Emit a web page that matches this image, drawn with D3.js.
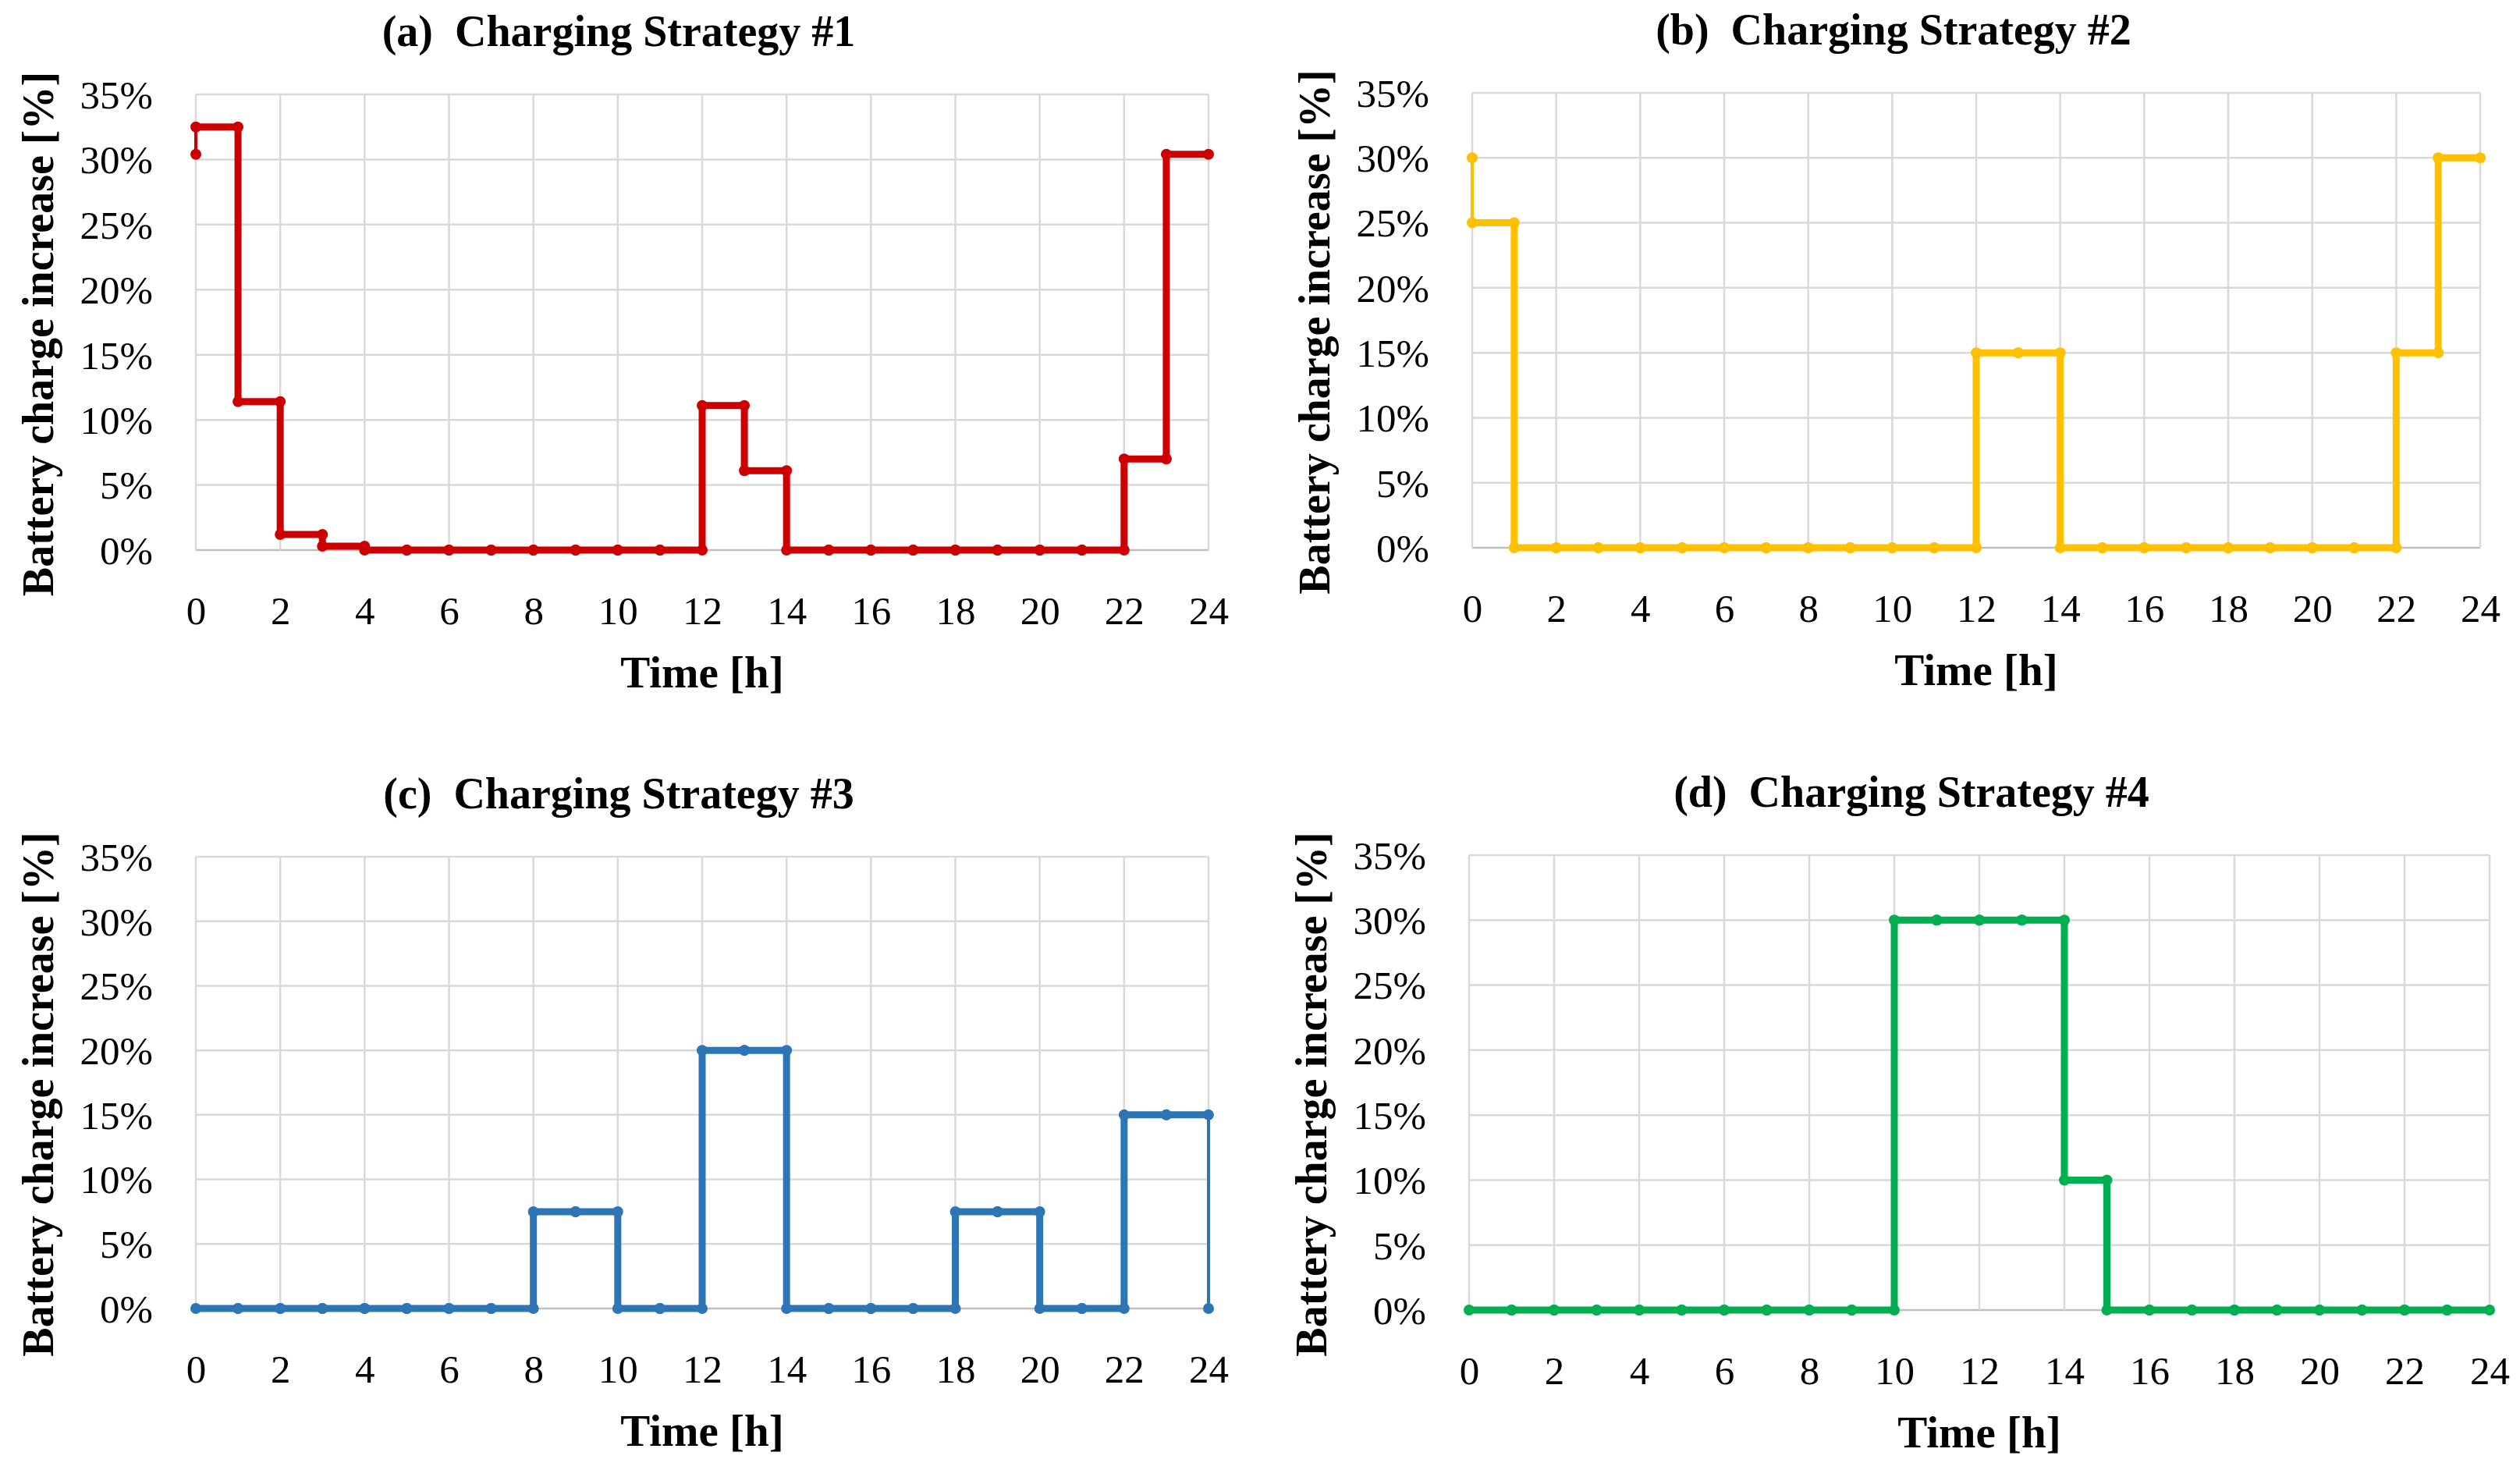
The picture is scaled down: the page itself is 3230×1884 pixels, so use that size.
<!DOCTYPE html>
<html>
<head>
<meta charset="utf-8">
<script src="https://cdn.jsdelivr.net/npm/d3@7"></script>
<style>
  html, body { margin: 0; padding: 0; background: #fff; }
  svg { display: block; }
  text { font-family: "Palatino Linotype", Palatino, "Liberation Serif", serif; fill: #000; }
</style>
</head>
<body>
<div id="app"></div>
<script>
// hourly battery charge increase [%], value held over [h, h+1)
const strategy1 = [32.5, 11.4, 1.2, 0.3, 0, 0, 0, 0, 0, 0, 0, 0, 11.1, 6.1, 0, 0, 0, 0, 0, 0, 0, 0, 7.0, 30.4];
const strategy2 = [25, 0, 0, 0, 0, 0, 0, 0, 0, 0, 0, 0, 15, 15, 0, 0, 0, 0, 0, 0, 0, 0, 15, 30];
const strategy3 = [0, 0, 0, 0, 0, 0, 0, 0, 7.5, 7.5, 0, 0, 20, 20, 0, 0, 0, 0, 7.5, 7.5, 0, 0, 15, 15];
const strategy4 = [0, 0, 0, 0, 0, 0, 0, 0, 0, 0, 30, 30, 30, 30, 10, 0, 0, 0, 0, 0, 0, 0, 0, 0];

// extra points before hour 0 / after hour 24 (null when none)
const startPoints = [30.4, 30, null, null];
const endPoints = [null, null, 0, null];

const titles = ["(a)  Charging Strategy #1", "(b)  Charging Strategy #2", "(c)  Charging Strategy #3", "(d)  Charging Strategy #4"];
const colors = ["#CC0000", "#FFC000", "#2E75B6", "#00B050"];
const xTicks = [0, 2, 4, 6, 8, 10, 12, 14, 16, 18, 20, 22, 24];
const yTicks = [0, 5, 10, 15, 20, 25, 30, 35];

const series = [strategy1, strategy2, strategy3, strategy4];

// plot areas, in page pixels
const panels = [
    { left: 251, right: 1549, top: 121, bottom: 705, titleDx: -107 },
    { left: 1887, right: 3179, top: 119, bottom: 702, titleDx: -106 },
    { left: 251, right: 1549, top: 1098, bottom: 1677, titleDx: -107 },
    { left: 1883, right: 3191, top: 1096, bottom: 1679, titleDx: -87 },
];

const svg = d3.select("#app")
    .append("svg")
    .attr("width", 3230)
    .attr("height", 1884);

svg.append("rect").attr("width", 3230).attr("height", 1884).attr("fill", "#fff");

panels.forEach((p, i) => {
    const values = series[i];
    const color = colors[i];

    const x = d3.scaleLinear().domain([0, 24]).range([p.left, p.right]);
    const y = d3.scaleLinear().domain([0, 35]).range([p.bottom, p.top]);

    const g = svg.append("g");

    // gridlines
    g.append("g")
        .selectAll("line")
        .data(yTicks)
        .join("line")
        .attr("x1", p.left).attr("x2", p.right)
        .attr("y1", (d) => y(d)).attr("y2", (d) => y(d))
        .attr("stroke", (d) => (d === 0 ? "#bfbfbf" : "#d9d9d9"))
        .attr("stroke-width", 2.5);

    g.append("g")
        .selectAll("line")
        .data(xTicks)
        .join("line")
        .attr("x1", (d) => x(d)).attr("x2", (d) => x(d))
        .attr("y1", p.top).attr("y2", p.bottom)
        .attr("stroke", "#d9d9d9")
        .attr("stroke-width", 2.5);

    // axes (labels only)
    const yAxis = g.append("g")
        .attr("transform", `translate(${p.left - 55},0)`)
        .call(d3.axisLeft(y).tickValues(yTicks).tickFormat((d) => d + "%").tickSize(0).tickPadding(0));
    yAxis.select(".domain").remove();
    yAxis.selectAll("text")
        .attr("font-size", 51)
        .attr("font-family", null)
        .attr("dy", "0.34em");

    const xAxis = g.append("g")
        .attr("transform", `translate(0,${p.bottom + 78})`)
        .call(d3.axisBottom(x).tickValues(xTicks).tickSize(0).tickPadding(0));
    xAxis.select(".domain").remove();
    xAxis.selectAll("text")
        .attr("font-size", 51)
        .attr("font-family", null)
        .attr("dy", "0.34em");

    // titles
    const cx = (p.left + p.right) / 2;
    const cy = (p.top + p.bottom) / 2;
    g.append("text")
        .attr("x", cx + p.titleDx)
        .attr("y", p.top - 82)
        .attr("dy", "0.35em")
        .attr("text-anchor", "middle")
        .attr("font-size", 56)
        .attr("font-weight", "bold")
        .attr("xml:space", "preserve")
        .style("white-space", "pre")
        .text(titles[i]);

    g.append("text")
        .attr("x", cx)
        .attr("y", p.bottom + 156)
        .attr("dy", "0.35em")
        .attr("text-anchor", "middle")
        .attr("font-size", 57)
        .attr("font-weight", "bold")
        .text("Time [h]");

    g.append("text")
        .attr("transform", `translate(${p.left - 203},${cy + 15}) rotate(-90)`)
        .attr("dy", "0.35em")
        .attr("text-anchor", "middle")
        .attr("font-size", 56)
        .attr("font-weight", "bold")
        .text("Battery charge increase [%]");

    // extra thin segments
    if (startPoints[i] !== null) {
        g.append("line")
            .attr("x1", x(0)).attr("x2", x(0))
            .attr("y1", y(startPoints[i])).attr("y2", y(values[0]))
            .attr("stroke", color)
            .attr("stroke-width", 4);
    }
    if (endPoints[i] !== null) {
        g.append("line")
            .attr("x1", x(24)).attr("x2", x(24))
            .attr("y1", y(values[23])).attr("y2", y(endPoints[i]))
            .attr("stroke", color)
            .attr("stroke-width", 4);
    }

    // step line
    const stepData = values.map((v, h) => [h, v]).concat([[24, values[23]]]);
    const line = d3.line()
        .x((d) => x(d[0]))
        .y((d) => y(d[1]))
        .curve(d3.curveStepAfter);

    g.append("path")
        .datum(stepData)
        .attr("d", line)
        .attr("fill", "none")
        .attr("stroke", color)
        .attr("stroke-width", 9)
        .attr("stroke-linejoin", "round");

    // markers at every corner
    const markers = [];
    values.forEach((v, h) => {
        markers.push([h, v]);
        markers.push([h + 1, v]);
    });
    if (startPoints[i] !== null) markers.push([0, startPoints[i]]);
    if (endPoints[i] !== null) markers.push([24, endPoints[i]]);

    g.append("g")
        .selectAll("circle")
        .data(markers)
        .join("circle")
        .attr("cx", (d) => x(d[0]))
        .attr("cy", (d) => y(d[1]))
        .attr("r", 7)
        .attr("fill", color);
});
</script>
</body>
</html>
